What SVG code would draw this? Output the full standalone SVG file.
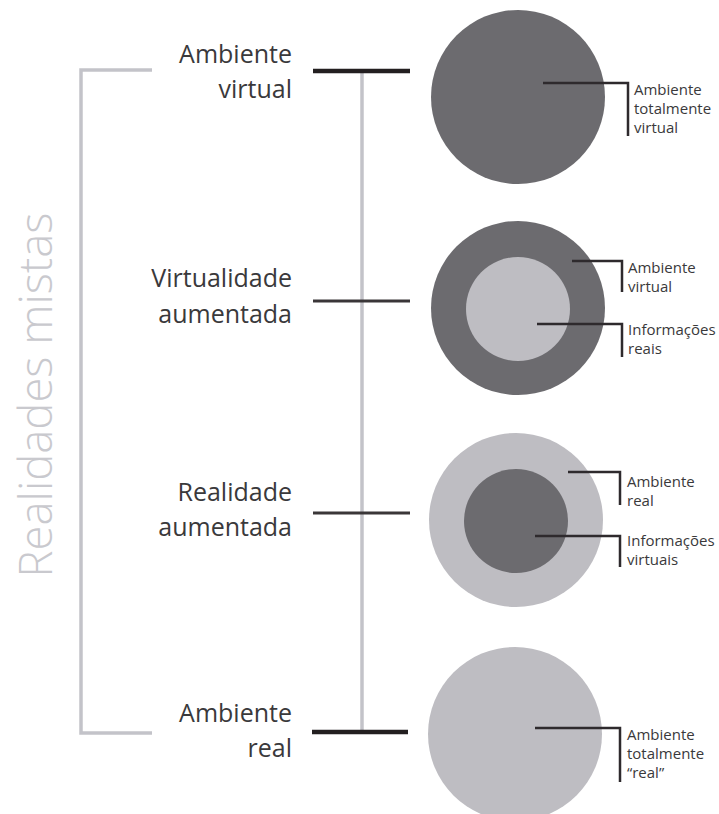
<svg xmlns="http://www.w3.org/2000/svg" width="719" height="814" viewBox="0 0 719 814">
<style>
.big{font-family:"Open Sans","Liberation Sans",sans-serif;font-size:25px;fill:#3a393b;text-anchor:end}
.small{font-family:"Open Sans","Liberation Sans",sans-serif;font-size:15px;fill:#3a393b}
.side{font-family:"Open Sans","Liberation Sans",sans-serif;font-size:46px;font-weight:300;fill:#c9c9ce;text-anchor:middle}
.gray{stroke:#c3c3c9;stroke-width:3.5;fill:none}
.bar{stroke:#231f20;stroke-width:4.5;fill:none}
.tick{stroke:#3a3638;stroke-width:3;fill:none}
.lead{stroke:#2e2a2d;stroke-width:2.5;fill:none}
.dark{fill:#6c6b6f}
.light{fill:#bebdc2}
</style>
<rect width="719" height="814" fill="#ffffff"/>
<g id="bracket">
<polyline class="gray" points="152,70 81,70 81,733 152,733"/>
<text class="side" transform="translate(52,395) rotate(-90)" textLength="365" lengthAdjust="spacingAndGlyphs">Realidades mistas</text>
</g>
<g id="connectors">
<line class="gray" x1="362" y1="72" x2="362" y2="732"/>
<line class="bar" x1="313" y1="71" x2="410" y2="71"/>
<line class="tick" x1="313" y1="301" x2="410" y2="301"/>
<line class="tick" x1="313" y1="513" x2="410" y2="513"/>
<line class="bar" x1="312" y1="732" x2="408" y2="732"/>
</g>
<g id="label-ambiente-virtual">
<text class="big" x="292" y="63">Ambiente</text>
<text class="big" x="292" y="98">virtual</text>
</g>
<g id="label-virtualidade">
<text class="big" x="292" y="287">Virtualidade</text>
<text class="big" x="292" y="323">aumentada</text>
</g>
<g id="label-realidade">
<text class="big" x="292" y="501">Realidade</text>
<text class="big" x="292" y="536">aumentada</text>
</g>
<g id="label-ambiente-real">
<text class="big" x="292" y="722">Ambiente</text>
<text class="big" x="292" y="757">real</text>
</g>
<g id="circle-virtual">
<circle class="dark" cx="518" cy="97" r="87"/>
<polyline class="lead" points="543,83 628,83 628,136"/>
<text class="small" x="634" y="95">Ambiente</text>
<text class="small" x="634" y="114">totalmente</text>
<text class="small" x="634" y="133">virtual</text>
</g>
<g id="circle-virtualidade">
<circle class="dark" cx="518" cy="308" r="87"/>
<circle class="light" cx="518" cy="309" r="52"/>
<polyline class="lead" points="572,261 622,261 622,292"/>
<polyline class="lead" points="537,324 622,324 622,357"/>
<text class="small" x="628" y="273">Ambiente</text>
<text class="small" x="628" y="292">virtual</text>
<text class="small" x="628" y="335">Informações</text>
<text class="small" x="628" y="354">reais</text>
</g>
<g id="circle-realidade">
<circle class="light" cx="516" cy="520" r="87"/>
<circle class="dark" cx="516" cy="521" r="52"/>
<polyline class="lead" points="568,472 620,472 620,505"/>
<polyline class="lead" points="535,536 620,536 620,567"/>
<text class="small" x="627" y="487">Ambiente</text>
<text class="small" x="627" y="506">real</text>
<text class="small" x="627" y="546">Informações</text>
<text class="small" x="627" y="565">virtuais</text>
</g>
<g id="circle-real">
<circle class="light" cx="515" cy="734" r="87"/>
<polyline class="lead" points="535,728 620,728 620,782"/>
<text class="small" x="627" y="740">Ambiente</text>
<text class="small" x="627" y="759">totalmente</text>
<text class="small" x="627" y="778">“real”</text>
</g>
</svg>
